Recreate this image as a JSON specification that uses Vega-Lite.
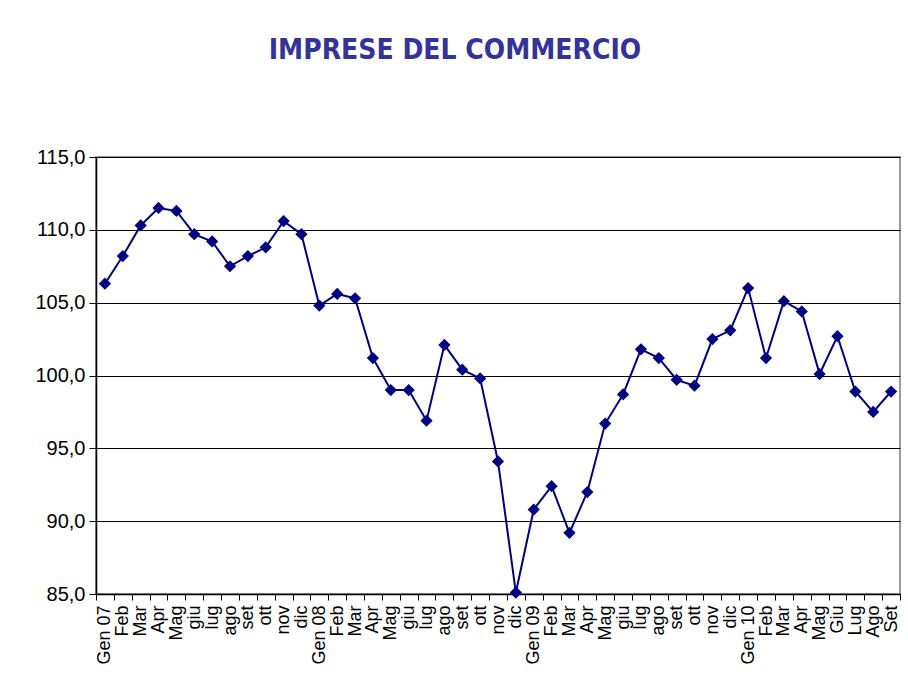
{
  "$schema": "https://vega.github.io/schema/vega-lite/v6.json",
  "width": 804,
  "height": 437,
  "autosize": {"type": "none"},
  "padding": {"left": 96, "top": 157, "right": 8, "bottom": 91},
  "background": "white",
  "title": {
    "text": "IMPRESE DEL COMMERCIO",
    "font": "DejaVu Sans Condensed",
    "fontSize": 28,
    "fontWeight": "bold",
    "color": "#333399",
    "anchor": "middle",
    "baseline": "alphabetic",
    "dx": -43,
    "offset": 60
  },
  "data": {
    "values": [
      {"i": 0, "m": "Gen 07", "v": 106.3},
      {"i": 1, "m": "Feb", "v": 108.2},
      {"i": 2, "m": "Mar", "v": 110.3},
      {"i": 3, "m": "Apr", "v": 111.5},
      {"i": 4, "m": "Mag", "v": 111.3},
      {"i": 5, "m": "giu", "v": 109.7},
      {"i": 6, "m": "lug", "v": 109.2},
      {"i": 7, "m": "ago", "v": 107.5},
      {"i": 8, "m": "set", "v": 108.2},
      {"i": 9, "m": "ott", "v": 108.8},
      {"i": 10, "m": "nov", "v": 110.6},
      {"i": 11, "m": "dic", "v": 109.7},
      {"i": 12, "m": "Gen 08", "v": 104.8},
      {"i": 13, "m": "Feb", "v": 105.6},
      {"i": 14, "m": "Mar", "v": 105.3},
      {"i": 15, "m": "Apr", "v": 101.2},
      {"i": 16, "m": "Mag", "v": 99.0},
      {"i": 17, "m": "giu", "v": 99.0},
      {"i": 18, "m": "lug", "v": 96.9},
      {"i": 19, "m": "ago", "v": 102.1},
      {"i": 20, "m": "set", "v": 100.4},
      {"i": 21, "m": "ott", "v": 99.8},
      {"i": 22, "m": "nov", "v": 94.1},
      {"i": 23, "m": "dic", "v": 85.1},
      {"i": 24, "m": "Gen 09", "v": 90.8},
      {"i": 25, "m": "Feb", "v": 92.4},
      {"i": 26, "m": "Mar", "v": 89.2},
      {"i": 27, "m": "Apr", "v": 92.0},
      {"i": 28, "m": "Mag", "v": 96.7},
      {"i": 29, "m": "giu", "v": 98.7},
      {"i": 30, "m": "lug", "v": 101.8},
      {"i": 31, "m": "ago", "v": 101.2},
      {"i": 32, "m": "set", "v": 99.7},
      {"i": 33, "m": "ott", "v": 99.3},
      {"i": 34, "m": "nov", "v": 102.5},
      {"i": 35, "m": "dic", "v": 103.1},
      {"i": 36, "m": "Gen 10", "v": 106.0},
      {"i": 37, "m": "Feb", "v": 101.2},
      {"i": 38, "m": "Mar", "v": 105.1},
      {"i": 39, "m": "Apr", "v": 104.4},
      {"i": 40, "m": "Mag", "v": 100.1},
      {"i": 41, "m": "Giu", "v": 102.7},
      {"i": 42, "m": "Lug", "v": 98.9},
      {"i": 43, "m": "Ago", "v": 97.5},
      {"i": 44, "m": "Set", "v": 98.9}
    ]
  },
  "encoding": {
    "x": {
      "field": "i",
      "type": "ordinal",
      "bandPosition": 0.5,
      "scale": {"type": "band", "paddingInner": 0, "paddingOuter": 0},
      "axis": {
        "title": null,
        "labelAngle": -90,
        "labelAlign": "right",
        "labelBaseline": "middle",
        "labelFont": "Liberation Sans",
        "labelFontSize": 18,
        "labelColor": "black",
        "labelPadding": 5,
        "labelExpr": "['Gen 07','Feb','Mar','Apr','Mag','giu','lug','ago','set','ott','nov','dic','Gen 08','Feb','Mar','Apr','Mag','giu','lug','ago','set','ott','nov','dic','Gen 09','Feb','Mar','Apr','Mag','giu','lug','ago','set','ott','nov','dic','Gen 10','Feb','Mar','Apr','Mag','Giu','Lug','Ago','Set'][datum.value]",
        "tickBand": "extent",
        "tickColor": "black",
        "tickSize": 6,
        "domainColor": "black",
        "domainWidth": 1.5,
        "grid": false,
        "labelOverlap": false
      }
    },
    "y": {
      "field": "v",
      "type": "quantitative",
      "scale": {"domain": [85, 115], "zero": false, "nice": false},
      "axis": {
        "title": null,
        "values": [85, 90, 95, 100, 105, 110, 115],
        "labelExpr": "replace(format(datum.value, '.1f'), '.', ',')",
        "labelFont": "Liberation Sans",
        "labelFontSize": 20,
        "labelColor": "black",
        "labelPadding": 4,
        "tickColor": "black",
        "tickSize": 7,
        "domainColor": "black",
        "domainWidth": 1.5,
        "grid": true,
        "gridColor": "black",
        "gridOpacity": 1,
        "gridWidth": 1.2
      }
    }
  },
  "layer": [
    {
      "mark": {"type": "line", "color": "#000080", "strokeWidth": 2}
    },
    {
      "mark": {"type": "point", "shape": "diamond", "filled": true, "color": "#000080", "opacity": 1, "size": 150}
    }
  ],
  "config": {
    "view": {"stroke": "#999999", "strokeWidth": 2}
  }
}
